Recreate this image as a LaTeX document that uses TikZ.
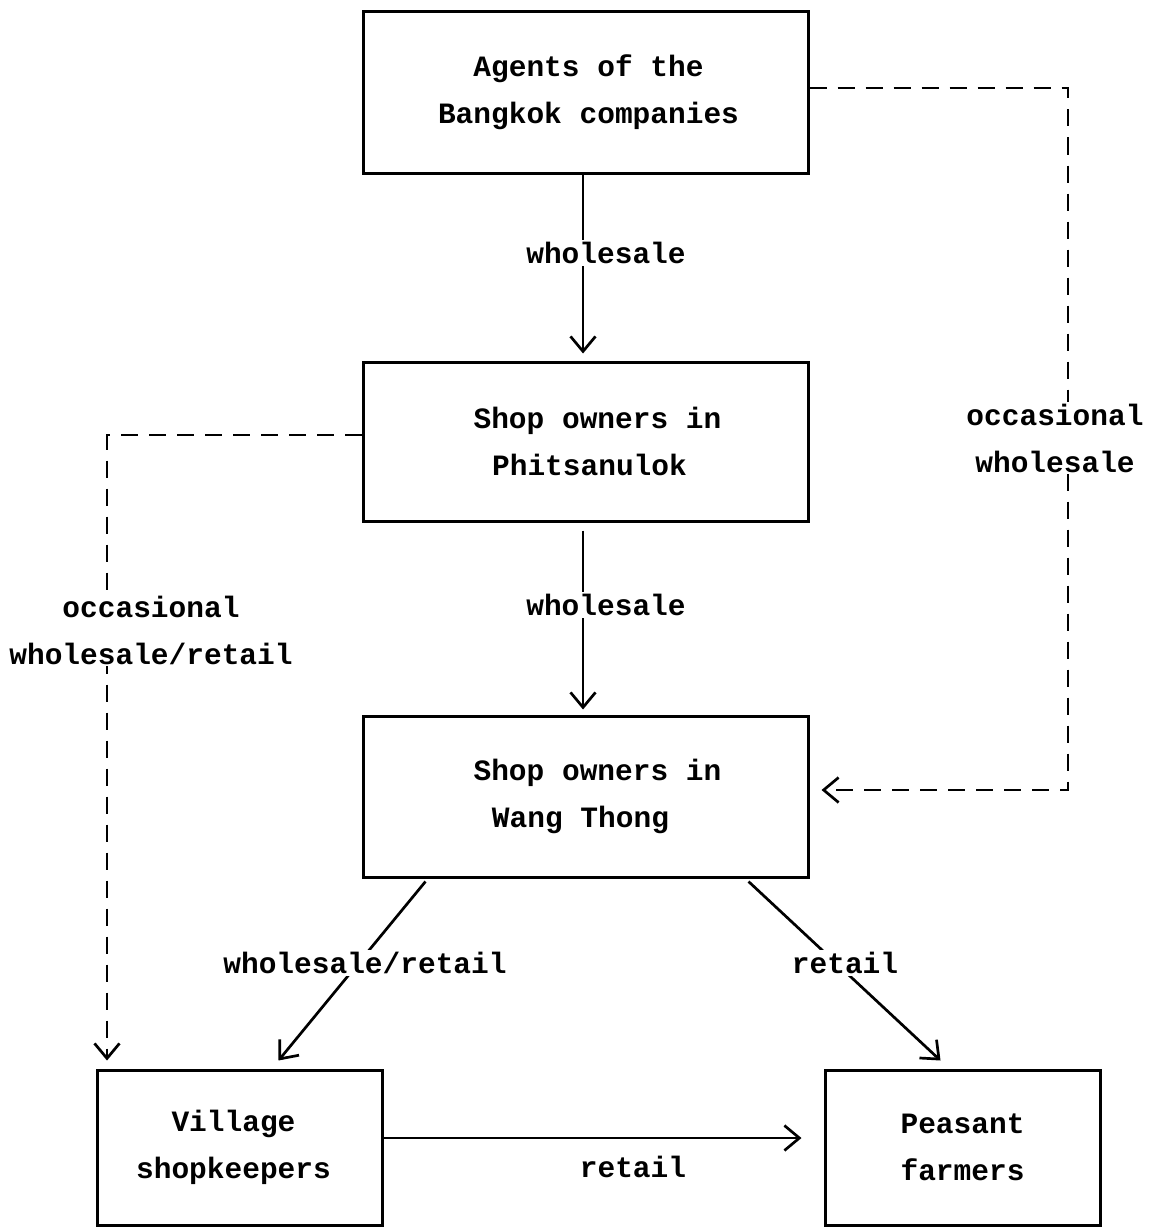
\documentclass[tikz,border=0pt]{standalone}
\usepackage{fontspec}
\usetikzlibrary{arrows.meta,calc}
\newfontfamily\twfont{Liberation Mono}[BoldFont={Liberation Mono Bold}]
\begin{document}
\begin{tikzpicture}[x=1pt,y=-1pt,
  every node/.style={font=\twfont\bfseries\fontsize{29.5}{47}\selectfont},
  box/.style={draw,line width=3pt,align=center,inner sep=0pt},
  conn/.style={line width=2.7pt,-{Straight Barb[length=15pt,width=25pt,line width=2.7pt]}},
  dconn/.style={conn,dash pattern=on 17pt off 11pt},
  lbl/.style={fill=white,inner sep=2pt,align=center}]
\useasboundingbox (0,0) rectangle (1165,1228);
\node[box,minimum width=445pt,minimum height=161pt] (top) at (585.5,92.5) {\hspace*{6pt}Agents of the\\\hspace*{6pt}Bangkok companies};
\node[box,minimum width=445pt,minimum height=159pt] (phit) at (585.5,441.5) {\hspace*{24pt}Shop owners in\\\hspace*{8pt}Phitsanulok};
\node[box,minimum width=445pt,minimum height=161pt] (wang) at (585.5,796.5) {\hspace*{24pt}Shop owners in\\Wang Thong\hspace*{10pt}};
\node[box,minimum width=285pt,minimum height=155pt] (village) at (239.5,1147.5) {Village\hspace*{12pt}\\shopkeepers\hspace*{12pt}};
\node[box,minimum width=275pt,minimum height=155pt] (peasant) at (962.5,1147.5) {Peasant\\farmers};
\coordinate (rc1) at (1068,88);
\coordinate (rc2) at (1068,790);
\coordinate (lc1) at (107,435);
% connectors
\draw[conn,shorten >=7pt] ([xshift=-2.5pt]top.south) -- ([xshift=-2.5pt]phit.north);
\draw[conn,shorten <=8pt,shorten >=5pt] ([xshift=-2.5pt]phit.south) -- ([xshift=-2.5pt]wang.north);
\draw[dconn,shorten >=12pt] (top.east |- rc1) -- (rc1) -- (rc2) -- (wang.east |- rc2);
\draw[dconn,shorten >=8pt] (phit.west |- lc1) -- (lc1) -- (village.north -| lc1);
\draw[conn] ($(wang.south west)+(64,3)$) -- ($(village.north west)+(183,-8)$);
\draw[conn] ($(wang.south west)+(387,3)$) -- ($(peasant.north west)+(117,-8)$);
\draw[conn,shorten >=22pt] ([yshift=9.5pt]village.east) -- ([yshift=9.5pt]peasant.west);
% labels
\node[lbl] (l1) at (606,253) {wholesale};
\node[lbl] (l2) at (606,605) {wholesale};
\node[lbl] (l3) at (1055,438) {occasional\\wholesale};
\node[lbl] (l4) at (151,630) {occasional\\wholesale/retail};
\node[lbl] (l5) at (365,963) {wholesale/retail};
\node[lbl] (l6) at (845,963) {retail};
\node (l7) at (633,1167) {retail};
\end{tikzpicture}
\end{document}
